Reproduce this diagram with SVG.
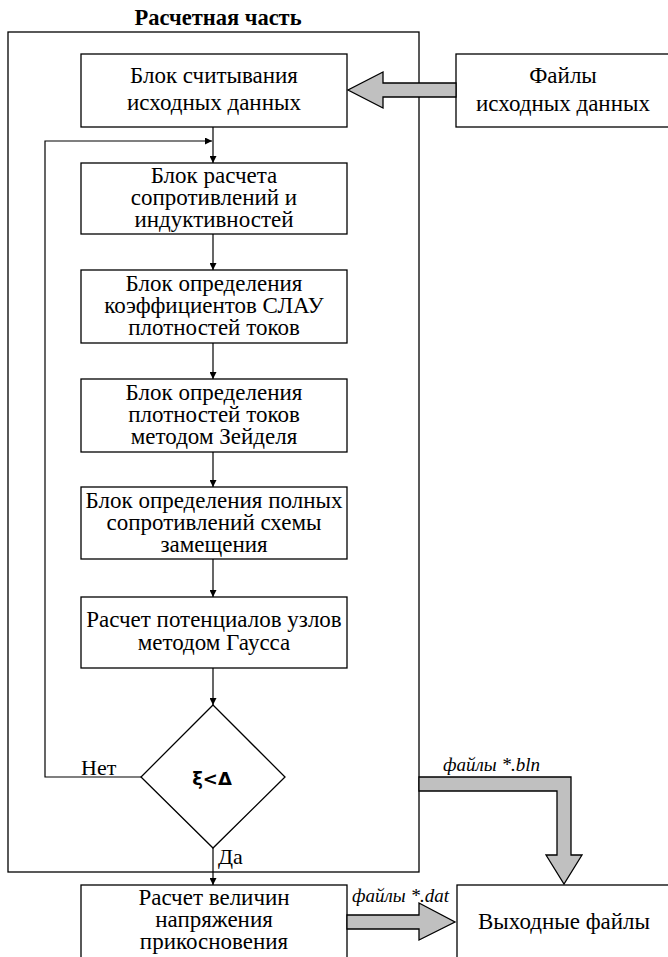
<svg xmlns="http://www.w3.org/2000/svg" width="668" height="957" viewBox="0 0 668 957">
<defs>
<style>
.box{fill:#fff;stroke:#000;stroke-width:1.3}
.frame{fill:none;stroke:#000;stroke-width:1.3}
.t{font-family:'Liberation Serif','Times New Roman',serif;font-size:23px;fill:#000;text-anchor:middle}
.title{font-family:'Liberation Serif','Times New Roman',serif;font-size:22.5px;font-weight:bold;fill:#000;text-anchor:middle}
.lbl{font-family:'Liberation Serif','Times New Roman',serif;font-size:22px;fill:#000}
.it{font-family:'Liberation Serif','Times New Roman',serif;font-size:19px;font-style:italic;fill:#000}
.cond{font-family:'DejaVu Sans',sans-serif;font-size:18px;font-weight:bold;fill:#000;text-anchor:middle}
.ln{fill:none;stroke:#000;stroke-width:1.2}
.big{fill:#c0c0c0;stroke:#000;stroke-width:1.3;stroke-linejoin:miter}
</style>
<marker id="ah" viewBox="0 0 10 10" refX="10" refY="5" markerWidth="7" markerHeight="7" markerUnits="userSpaceOnUse" orient="auto">
<path d="M0,0 L10,5 L0,10 z" fill="#000"/>
</marker>
</defs>

<text class="title" x="218" y="25">Расчетная часть</text>
<rect id="frame" class="frame" x="8" y="32" width="411" height="840"/>

<g id="n1"><rect class="box" x="81" y="54" width="266" height="73"/>
<text class="t" x="214" y="83">Блок считывания</text>
<text class="t" x="214" y="110">исходных данных</text></g>

<g id="nfiles"><rect class="box" x="456" y="54" width="220" height="73"/>
<text class="t" x="563" y="83">Файлы</text>
<text class="t" x="563" y="111">исходных данных</text></g>

<g id="n2"><rect class="box" x="81" y="163" width="266" height="71"/>
<text class="t" x="214" y="183">Блок расчета</text>
<text class="t" x="214" y="205">сопротивлений и</text>
<text class="t" x="214" y="227">индуктивностей</text></g>

<g id="n3"><rect class="box" x="81" y="270" width="266" height="73"/>
<text class="t" x="214" y="291">Блок определения</text>
<text class="t" x="214" y="313">коэффициентов СЛАУ</text>
<text class="t" x="214" y="335">плотностей токов</text></g>

<g id="n4"><rect class="box" x="81" y="379" width="266" height="73"/>
<text class="t" x="214" y="400">Блок определения</text>
<text class="t" x="214" y="422">плотностей токов</text>
<text class="t" x="214" y="444">методом Зейделя</text></g>

<g id="n5"><rect class="box" x="81" y="487" width="266" height="72"/>
<text class="t" x="214" y="508">Блок определения полных</text>
<text class="t" x="214" y="530">сопротивлений схемы</text>
<text class="t" x="214" y="552">замещения</text></g>

<g id="n6"><rect class="box" x="81" y="597" width="266" height="71"/>
<text class="t" x="214" y="627">Расчет потенциалов узлов</text>
<text class="t" x="214" y="650">методом Гаусса</text></g>

<g id="ndec"><path class="box" d="M213,705 L285,777 L213,848 L141,777 Z"/>
<text class="cond" x="212" y="785">ξ&lt;Δ</text></g>

<g id="n7"><rect class="box" x="81" y="885" width="266" height="90"/>
<text class="t" x="214" y="905">Расчет величин</text>
<text class="t" x="214" y="927">напряжения</text>
<text class="t" x="214" y="949">прикосновения</text></g>

<g id="nout"><rect class="box" x="457" y="885" width="220" height="90"/>
<text class="t" x="564" y="929">Выходные файлы</text></g>

<g id="connectors">
<line class="ln" x1="213" y1="127" x2="213" y2="163" marker-end="url(#ah)"/>
<line class="ln" x1="213" y1="234" x2="213" y2="270" marker-end="url(#ah)"/>
<line class="ln" x1="213" y1="343" x2="213" y2="379" marker-end="url(#ah)"/>
<line class="ln" x1="213" y1="452" x2="213" y2="487" marker-end="url(#ah)"/>
<line class="ln" x1="213" y1="559" x2="213" y2="597" marker-end="url(#ah)"/>
<line class="ln" x1="213" y1="668" x2="213" y2="705" marker-end="url(#ah)"/>
<line class="ln" x1="213" y1="848" x2="213" y2="885" marker-end="url(#ah)"/>
<polyline class="ln" points="141,777 45,777 45,141 212,141" marker-end="url(#ah)"/>
<text class="lbl" x="81" y="775">Нет</text>
<text class="lbl" x="218" y="864">Да</text>
<path class="big" d="M456,83 L383,83 L383,72 L348,90 L383,108 L383,97 L456,97 Z"/>
<path class="big" d="M419,777 L571,777 L571,855 L582,855 L564,884 L546,855 L557,855 L557,791 L419,791 Z"/>
<path class="big" d="M347,915 L419,915 L419,903 L455,922 L419,940 L419,929 L347,929 Z"/>
<text class="it" x="443" y="771">файлы *.bln</text>
<text class="it" x="352" y="902">файлы *.dat</text>
</g>
</svg>
